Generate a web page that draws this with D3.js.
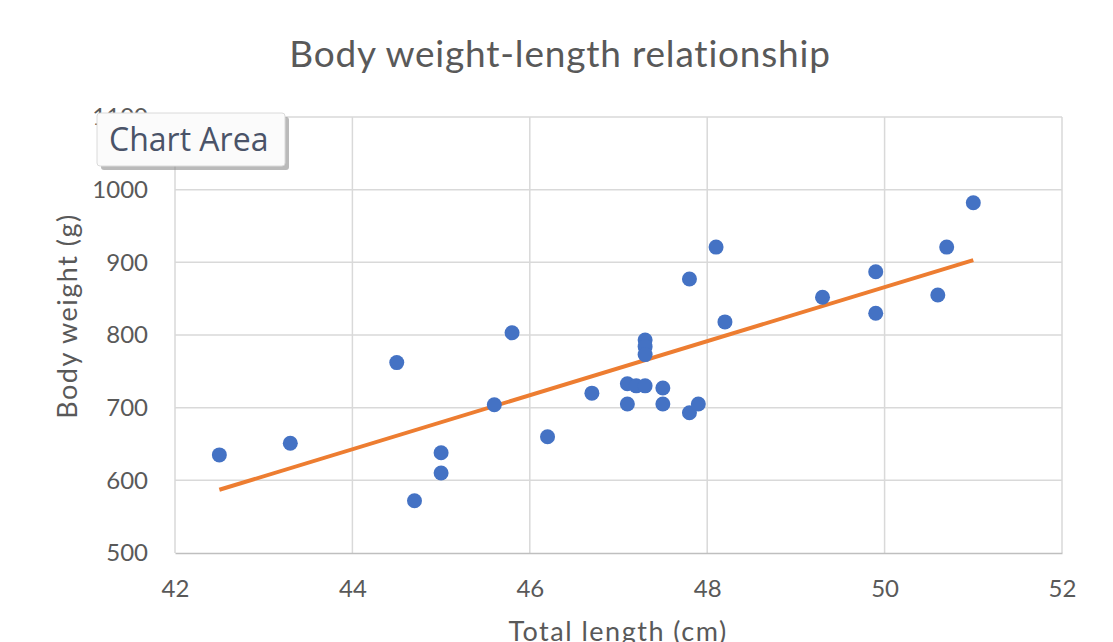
<!DOCTYPE html>
<html>
<head>
<meta charset="utf-8">
<script src="https://cdn.jsdelivr.net/npm/d3@7"></script>
<style>
  body { margin: 0; background: #fff; }
  svg { display: block; }
</style>
</head>
<body>
<script>
// data
const lengthCm = [42.5, 43.3, 44.5, 44.7, 45.0, 45.0, 45.6, 45.8, 46.2, 46.7,
  47.1, 47.1, 47.2, 47.3, 47.3, 47.3, 47.3, 47.5, 47.5, 47.8,
  47.9, 47.8, 48.1, 48.2, 49.3, 49.9, 49.9, 50.6, 50.7, 51.0];
const weightG = [635, 651, 762, 572, 638, 610, 704, 803, 660, 720,
  705, 733, 730, 730, 793, 784, 773, 727, 705, 693,
  705, 877, 921, 818, 852, 887, 830, 855, 921, 982];
const trendX = [42.5, 51.0];
const trendY = [587, 903];
const xTicks = [42, 44, 46, 48, 50, 52];
const yTicks = [500, 600, 700, 800, 900, 1000, 1100];

const W = 1113, H = 642;
const font = "Lato, 'Open Sans', sans-serif";

const svg = d3.select("body").append("svg")
  .attr("width", W)
  .attr("height", H);

const x = d3.scaleLinear().domain([42, 52]).range([175, 1062]);
const y = d3.scaleLinear().domain([500, 1100]).range([553, 117]);

// title
svg.append("text")
  .attr("x", 560).attr("y", 67)
  .attr("text-anchor", "middle")
  .attr("font-family", font)
  .attr("font-size", 37)
  .attr("letter-spacing", 0.8)
  .attr("fill", "#595959")
  .text("Body weight-length relationship");

// gridlines
svg.append("g")
  .selectAll("line.h")
  .data(yTicks.slice(1))
  .join("line")
  .attr("x1", x(42)).attr("x2", x(52))
  .attr("y1", d => y(d)).attr("y2", d => y(d))
  .attr("stroke", "#d9d9d9").attr("stroke-width", 1.5);

svg.append("g")
  .selectAll("line.v")
  .data(xTicks)
  .join("line")
  .attr("x1", d => x(d)).attr("x2", d => x(d))
  .attr("y1", y(1100)).attr("y2", y(500))
  .attr("stroke", "#d9d9d9").attr("stroke-width", 1.5);

// axes
const xAxis = svg.append("g")
  .attr("transform", "translate(0," + y(500) + ")")
  .call(d3.axisBottom(x).tickValues(xTicks).tickSize(0).tickPadding(27));
xAxis.select(".domain").attr("stroke", "#bfbfbf").attr("stroke-width", 1.5);

const yAxis = svg.append("g")
  .attr("transform", "translate(" + (x(42) - 27) + ",0)")
  .call(d3.axisLeft(y).tickValues(yTicks).tickFormat(d3.format("d")).tickSize(0).tickPadding(0));
yAxis.select(".domain").remove();

svg.selectAll(".tick text")
  .attr("font-family", font)
  .attr("font-size", 24)
  .attr("fill", "#595959");

// axis titles
svg.append("text")
  .attr("x", 618).attr("y", 641)
  .attr("text-anchor", "middle")
  .attr("font-family", font)
  .attr("font-size", 27)
  .attr("letter-spacing", 1.5)
  .attr("fill", "#595959")
  .text("Total length (cm)");

svg.append("text")
  .attr("transform", "translate(77,316) rotate(-90)")
  .attr("text-anchor", "middle")
  .attr("font-family", font)
  .attr("font-size", 27)
  .attr("letter-spacing", 1.5)
  .attr("fill", "#595959")
  .text("Body weight (g)");

// trendline
svg.append("path")
  .datum(trendX.map((d, i) => [d, trendY[i]]))
  .attr("d", d3.line().x(d => x(d[0])).y(d => y(d[1])))
  .attr("fill", "none")
  .attr("stroke", "#ED7D31")
  .attr("stroke-width", 4);

// points
svg.append("g")
  .selectAll("circle")
  .data(lengthCm.map((d, i) => [d, weightG[i]]))
  .join("circle")
  .attr("cx", d => x(d[0]))
  .attr("cy", d => y(d[1]))
  .attr("r", 7.5)
  .attr("fill", "#4472C4");

// "Chart Area" tooltip
const tip = svg.append("g");
tip.append("rect")
  .attr("x", 101).attr("y", 117)
  .attr("width", 188).attr("height", 53)
  .attr("rx", 3)
  .attr("fill", "#8c8c8c")
  .attr("opacity", 0.6);
tip.append("rect")
  .attr("x", 97).attr("y", 113)
  .attr("width", 188).attr("height", 53)
  .attr("rx", 3)
  .attr("fill", "#fbfbfb")
  .attr("stroke", "#dadada");
tip.append("text")
  .attr("x", 109).attr("y", 151)
  .attr("font-family", "'Open Sans', sans-serif")
  .attr("font-size", 32)
  .attr("fill", "#4a5368")
  .text("Chart Area");
</script>
</body>
</html>
